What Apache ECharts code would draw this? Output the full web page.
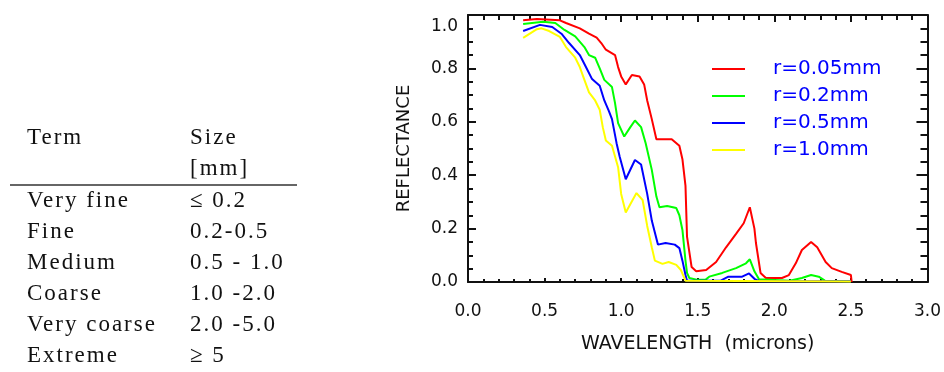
<!DOCTYPE html>
<html><head><meta charset="utf-8">
<script src="https://cdn.jsdelivr.net/npm/echarts@6/dist/echarts.min.js"></script>
<style>
html,body{margin:0;padding:0;background:#fff;width:944px;height:372px;overflow:hidden}
#chart{position:absolute;left:0;top:0;width:944px;height:372px}
#table{position:absolute;left:0;top:0}
#table text{font-family:"Liberation Serif",serif;font-size:23px;letter-spacing:2px;fill:#111}
</style></head><body>
<div id="chart"></div>
<svg id="table" width="330" height="372"></svg>
<script>
// ---- table content ----
const tableHeader = ['Term', 'Size'];
const tableUnit = '[mm]';
const terms = ['Very fine', 'Fine', 'Medium', 'Coarse', 'Very coarse', 'Extreme'];
const sizes = ['\u2264 0.2', '0.2-0.5', '0.5 - 1.0', '1.0 -2.0', '2.0 -5.0', '\u2265 5'];

// ---- chart data ----
const seriesNames = ['r=0.05mm', 'r=0.2mm', 'r=0.5mm', 'r=1.0mm'];
const seriesColors = ['#ff0000', '#00ff00', '#0000ff', '#ffff00'];

const wlRed = [0.36,0.45,0.60,0.64,0.73,0.79,0.84,0.87,0.90,0.96,0.98,1.00,1.03,1.07,1.12,1.15,1.17,1.20,1.23,1.27,1.33,1.38,1.40,1.42,1.43,1.46,1.49,1.555,1.62,1.685,1.75,1.80,1.84,1.87,1.88,1.91,1.945,2.05,2.095,2.14,2.18,2.24,2.28,2.335,2.375,2.44,2.50,2.505];
const rfRed = [0.98,0.985,0.98,0.97,0.95,0.93,0.915,0.895,0.87,0.85,0.805,0.77,0.74,0.775,0.77,0.74,0.68,0.61,0.535,0.535,0.535,0.51,0.46,0.36,0.17,0.056,0.04,0.045,0.075,0.13,0.18,0.22,0.28,0.20,0.146,0.034,0.015,0.015,0.026,0.07,0.12,0.15,0.13,0.075,0.052,0.038,0.026,0.0];

const wlGreen = [0.36,0.49,0.57,0.63,0.70,0.76,0.79,0.83,0.86,0.89,0.94,0.96,0.98,1.02,1.06,1.09,1.13,1.16,1.20,1.23,1.25,1.30,1.36,1.38,1.40,1.42,1.43,1.445,1.50,1.55,1.575,1.66,1.75,1.815,1.84,1.87,1.90,2.10,2.18,2.24,2.29,2.33,2.50];
const rfGreen = [0.966,0.975,0.97,0.944,0.92,0.88,0.85,0.84,0.80,0.757,0.73,0.67,0.595,0.545,0.58,0.605,0.58,0.52,0.42,0.32,0.28,0.285,0.277,0.25,0.195,0.08,0.034,0.015,0.008,0.008,0.02,0.034,0.052,0.07,0.085,0.04,0.01,0.005,0.015,0.026,0.02,0.005,0.003];

const wlBlue = [0.36,0.47,0.55,0.61,0.66,0.73,0.77,0.81,0.86,0.89,0.92,0.94,0.97,0.99,1.03,1.09,1.13,1.17,1.20,1.24,1.29,1.35,1.38,1.40,1.42,1.43,1.65,1.70,1.79,1.835,1.87,1.90,2.50];
const rfBlue = [0.94,0.963,0.955,0.93,0.895,0.85,0.805,0.76,0.735,0.68,0.64,0.61,0.52,0.47,0.385,0.457,0.44,0.33,0.23,0.14,0.146,0.14,0.127,0.08,0.026,0.005,0.005,0.02,0.02,0.032,0.012,0.003,0.003];

const wlYellow = [0.36,0.45,0.48,0.53,0.60,0.64,0.70,0.73,0.76,0.79,0.83,0.86,0.88,0.90,0.94,0.98,1.00,1.03,1.10,1.14,1.17,1.20,1.22,1.27,1.31,1.36,1.39,1.42,2.50];
const rfYellow = [0.914,0.947,0.95,0.94,0.918,0.88,0.84,0.805,0.757,0.71,0.68,0.645,0.58,0.53,0.51,0.43,0.33,0.26,0.333,0.307,0.21,0.13,0.08,0.068,0.075,0.064,0.045,0.005,0.002];

const xTickLabels = ['0.0','0.5','1.0','1.5','2.0','2.5','3.0'];
const yTickLabels = ['0.0','0.2','0.4','0.6','0.8','1.0'];

// ---- draw table (SVG text) ----
(function(){
  const svg = document.getElementById('table');
  const NS = 'http://www.w3.org/2000/svg';
  function t(x, y, s){ const e = document.createElementNS(NS,'text'); e.setAttribute('x',x); e.setAttribute('y',y); e.textContent = s; svg.appendChild(e); }
  t(27, 144, tableHeader[0]); t(190, 144, tableHeader[1]); t(190, 175, tableUnit);
  const ln = document.createElementNS(NS,'line');
  ln.setAttribute('x1',10); ln.setAttribute('x2',297); ln.setAttribute('y1',185); ln.setAttribute('y2',185);
  ln.setAttribute('stroke','#333'); ln.setAttribute('stroke-width','1.5'); svg.appendChild(ln);
  const base = [207, 238, 269, 300, 331, 362];
  terms.forEach((s,i)=>{ t(27, base[i], s); t(190, base[i], sizes[i]); });
})();

// ---- chart ----
const wls = [wlRed, wlGreen, wlBlue, wlYellow];
const rfs = [rfRed, rfGreen, rfBlue, rfYellow];
const ink = '#111';
const font = 'DejaVu Sans';

function xAx(pos, labels){
  return {
    type:'value', min:0, max:3, interval:0.5, position:pos,
    axisLine:{show:true, onZero:false, lineStyle:{color:ink, width:2}},
    axisTick:{show:true, inside:true, length: pos==='top'?7:4, lineStyle:{color:ink, width:2}},
    minorTick:{show:true, splitNumber:5, length: pos==='top'?5:3, lineStyle:{color:ink, width:2}},
    splitLine:{show:false}, minorSplitLine:{show:false},
    axisLabel:{show:labels, margin:21, fontFamily:font, fontSize:17, color:ink, showMinLabel:true, showMaxLabel:true,
      formatter:(v)=>xTickLabels[Math.round(v/0.5)]},
    name: labels ? 'WAVELENGTH  (microns)' : '', nameLocation:'middle', nameGap:53,
    nameTextStyle:{fontFamily:font, fontSize:19, color:ink}
  };
}
function yAx(pos, labels){
  return {
    type:'value', min:0, max:1, interval:0.2, position:pos,
    axisLine:{show:true, onZero:false, lineStyle:{color:ink, width:2}},
    axisTick:{show:true, inside:true, length: pos==='right'?11:8, lineStyle:{color:ink, width:2}},
    minorTick:{show:true, splitNumber:4, length: pos==='right'?7:5, lineStyle:{color:ink, width:2}},
    splitLine:{show:false}, minorSplitLine:{show:false},
    axisLabel:{show:labels, margin:10, fontFamily:font, fontSize:17, color:ink, showMinLabel:true, showMaxLabel:true,
      formatter:(v)=>{ const s = yTickLabels[Math.round(v/0.2)]; return v>0.99 ? '{t|'+s+'}' : s; },
      rich:{t:{padding:[24,0,0,0], fontFamily:font, fontSize:17, color:ink}}},
    name: labels ? 'REFLECTANCE' : '', nameLocation:'middle', nameRotate:90, nameGap:55,
    nameTextStyle:{fontFamily:font, fontSize:18, color:ink}
  };
}

const chart = echarts.init(document.getElementById('chart'), null, {renderer:'canvas'});
chart.setOption({
  animation:false,
  backgroundColor:'transparent',
  grid:{left:468, right:15, top:15, bottom:90},
  xAxis:[xAx('bottom', true), xAx('top', false)],
  yAxis:[yAx('left', true), yAx('right', false)],
  legend:{
    data:seriesNames, orient:'vertical', left:712, top:59, padding:0, icon:'rect',
    itemWidth:33, itemHeight:2, itemGap:7, selectedMode:false,
    textStyle:{color:'#0000ff', fontFamily:font, fontSize:20, padding:[0,0,0,23]}
  },
  series: seriesNames.map((n,i)=>({
    name:n, type:'line', xAxisIndex:0, yAxisIndex:0, clip:false,
    symbol:'none', showSymbol:false,
    color:seriesColors[i],
    lineStyle:{color:seriesColors[i], width:2},
    data: wls[i].map((w,j)=>[w, rfs[i][j]])
  }))
});
</script>
</body></html>
